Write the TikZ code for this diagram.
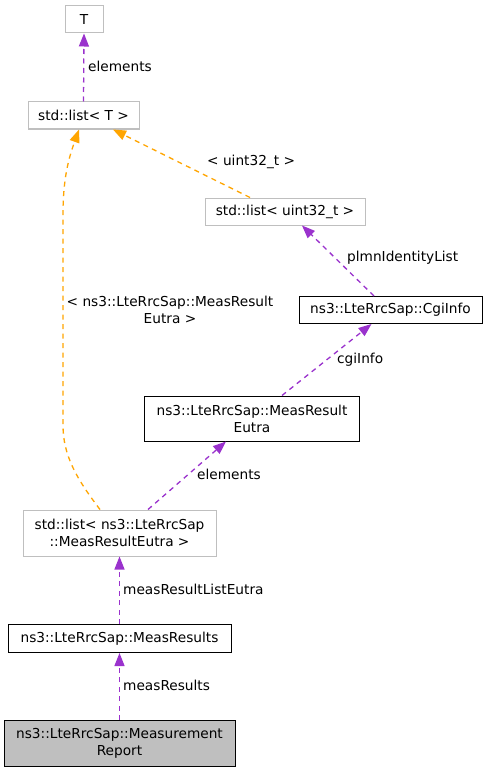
\documentclass[tikz,border=0pt]{standalone}
\usepackage{fontspec}
\setmainfont{DejaVu Sans}
\usetikzlibrary{arrows.meta}
\definecolor{purp}{HTML}{9A32CD}
\definecolor{orng}{HTML}{FFA500}
\definecolor{gborder}{HTML}{BFBFBF}
\definecolor{gfill}{HTML}{BFBFBF}
\begin{document}
\begin{tikzpicture}[x=1pt,y=-1pt,
  every node/.style={font=\fontsize{13.7}{17}\selectfont, inner sep=0pt, align=center},
  gbox/.style={draw=gborder, line width=1pt, fill=white},
  bbox/.style={draw=black, line width=1pt, fill=white},
  sbox/.style={draw=black, line width=1pt, fill=gfill},
  lbl/.style={anchor=west},
  purpedge/.style={color=purp, line width=1.3pt, dash pattern=on 5pt off 4.5pt, -{Triangle[length=13pt,width=10pt]}},
  orngedge/.style={color=orng, line width=1.3pt, dash pattern=on 5pt off 4.5pt, -{Triangle[length=13pt,width=10pt]}}
]
\useasboundingbox (0,0) rectangle (487,773);
\fill[white] (0,0) rectangle (487,773);

\node[gbox, minimum width=38pt, minimum height=27pt] (T) at (84,19.5) {T};
\node[gbox, minimum width=111pt, minimum height=27pt] (listT) at (83.5,115.5) {std::list< T >};
\node[gbox, minimum width=160pt, minimum height=27pt] (listU) at (285,211.5) {std::list< uint32\_t >};
\node[bbox, minimum width=183pt, minimum height=27pt] (cgi) at (390.5,310) {ns3::LteRrcSap::CgiInfo};
\node[bbox, minimum width=215pt, minimum height=45pt] (mre) at (252,418.5) {ns3::LteRrcSap::MeasResult\\Eutra};
\node[gbox, minimum width=193pt, minimum height=46pt] (lmre) at (119.5,533) {std::list< ns3::LteRrcSap\\::MeasResultEutra >};
\node[bbox, minimum width=223pt, minimum height=28pt] (mr) at (119.5,638.5) {ns3::LteRrcSap::MeasResults};
\node[sbox, minimum width=231pt, minimum height=46pt] (rep) at (119.5,743.5) {ns3::LteRrcSap::Measurement\\Report};

% edges
\draw[purpedge] (listT.north) -- (T.south);
\node[lbl] (l1) at (88,66) {elements};

\draw[orngedge] ([xshift=-35pt]listU.north) -- ([xshift=29.5pt]listT.south);
\node[lbl] (l2) at (207,162) {< uint32\_t >};

\draw[orngedge] ([xshift=-19.5pt]lmre.north) .. controls (76,478) and (63,455) .. (63,425) -- (63,215) .. controls (63,180) and (68,160) .. ([xshift=-4.5pt]listT.south);
\node (l3) at (170,309.5) {< ns3::LteRrcSap::MeasResult\\Eutra >};

\draw[purpedge] ([xshift=-16.5pt]cgi.north) -- ([xshift=17pt]listU.south);
\node[lbl] (l4) at (347,258) {plmnIdentityList};

\draw[purpedge] ([xshift=30pt]mre.north) -- ([xshift=-19pt]cgi.south);
\node[lbl] (l5) at (337,359.5) {cgiInfo};

\draw[purpedge] ([xshift=28.5pt]lmre.north) -- ([xshift=-26pt]mre.south);
\node[lbl] (l6) at (197,474) {elements};

\draw[purpedge] (mr.north) -- (lmre.south);
\node[lbl] (l7) at (123,589) {measResultListEutra};

\draw[purpedge] (rep.north) -- (mr.south);
\node[lbl] (l8) at (123,685) {measResults};
\end{tikzpicture}
\end{document}
